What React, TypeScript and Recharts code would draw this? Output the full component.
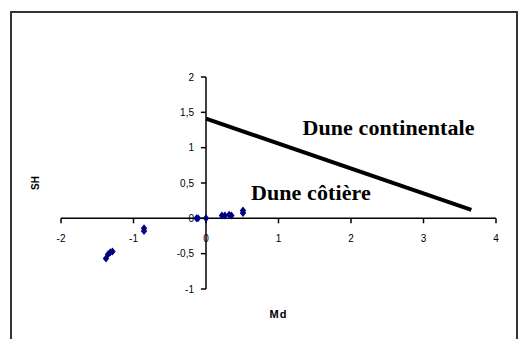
import React from 'react';
import {
  ScatterChart,
  Scatter,
  XAxis,
  YAxis,
  ReferenceLine,
  ReferenceDot,
} from 'recharts';

const pointMd = [-1.38, -1.35, -1.32, -1.29, -0.855, -0.855, -0.13, -0.11, 0, 0.22, 0.26, 0.32, 0.35, 0.51, 0.51];
const pointSh = [-0.57, -0.51, -0.48, -0.47, -0.14, -0.18, 0, 0, 0, 0.04, 0.04, 0.05, 0.04, 0.11, 0.075];

const lineMd = [0, 3.66];
const lineSh = [1.41, 0.12];

const xTicks = [-2, -1, 0, 1, 2, 3, 4];
const yTicks = [-1, -0.5, 0, 0.5, 1, 1.5, 2];
const xTickLabels = ['-2', '-1', '0', '1', '2', '3', '4'];
const yTickLabels = ['-1', '-0,5', '0', '0,5', '1', '1,5', '2'];

const annotations = [
  { text: 'Dune continentale', x: 1.33, y: 1.18 },
  { text: 'Dune côtière', x: 0.62, y: 0.26 },
];

const points = pointMd.map((x, i) => ({ x, y: pointSh[i] }));
const lineData = lineMd.map((x, i) => ({ x, y: lineSh[i] }));

const TICK = 0.07;
const tickFont = { fontFamily: '"Liberation Sans", Arial, sans-serif', fontSize: 10, fill: '#000' };

const Diamond = (props: any) => {
  const { cx, cy } = props;
  if (cx == null || cy == null) return <g />;
  return (
    <polygon
      points={`${cx},${cy - 4} ${cx + 3.2},${cy} ${cx},${cy + 4} ${cx - 3.2},${cy}`}
      fill="#000080"
    />
  );
};

const NoShape = () => <g />;

export default function App() {
  return (
    <div style={{ position: 'absolute', left: 0, top: 0, width: 518, height: 339, background: '#fff', overflow: 'hidden' }}>
      <div
        style={{
          position: 'absolute',
          left: 10,
          top: 11,
          width: 508,
          height: 340,
          boxSizing: 'border-box',
          border: '2px solid #333',
        }}
      />
      <div style={{ position: 'absolute', left: 0, top: 0 }}>
        <ScatterChart width={518} height={339} margin={{ top: 77, right: 22, bottom: 0, left: 0 }}>
          <XAxis
            type="number"
            dataKey="x"
            domain={[-2, 4]}
            ticks={xTicks}
            tick={false}
            tickLine={false}
            axisLine={false}
            height={50}
            label={{ value: 'Md', position: 'center', style: { ...tickFont, fontSize: 11, fontWeight: 'bold', letterSpacing: 1 } }}
          />
          <YAxis
            type="number"
            dataKey="y"
            domain={[-1, 2]}
            ticks={yTicks}
            tick={false}
            tickLine={false}
            axisLine={false}
            width={61}
            label={{ value: 'SH', angle: -90, position: 'center', dx: 5, style: { ...tickFont, fontWeight: 'bold' } }}
          />
          <ReferenceLine y={0} stroke="#000" strokeWidth={1.5} />
          <ReferenceLine x={0} stroke="#000" strokeWidth={1.5} />
          {xTicks.map((t) => (
            <ReferenceLine
              key={'xt' + t}
              segment={[{ x: t, y: 0 }, { x: t, y: -TICK }]}
              stroke="#000"
              strokeWidth={1.5}
            />
          ))}
          {yTicks.map((t) => (
            <ReferenceLine
              key={'yt' + t}
              segment={[{ x: -TICK, y: t }, { x: 0, y: t }]}
              stroke="#000"
              strokeWidth={1.5}
            />
          ))}
          {xTicks.map((t, i) => (
            <ReferenceDot
              key={'xl' + t}
              x={t}
              y={0}
              r={0}
              fill="none"
              stroke="none"
              label={{ value: xTickLabels[i], position: 'bottom', offset: 17, style: tickFont }}
            />
          ))}
          {yTicks.map((t, i) => (
            <ReferenceDot
              key={'yl' + t}
              x={0}
              y={t}
              r={0}
              fill="none"
              stroke="none"
              label={{ value: yTickLabels[i], position: 'left', offset: 12, style: tickFont }}
            />
          ))}
          <Scatter
            data={lineData}
            line={{ stroke: '#000', strokeWidth: 4 }}
            shape={NoShape}
            isAnimationActive={false}
          />
          <Scatter data={points} shape={Diamond} isAnimationActive={false} />
          {annotations.map((a) => (
            <ReferenceDot
              key={a.text}
              x={a.x}
              y={a.y}
              r={0}
              fill="none"
              stroke="none"
              label={(props: any) => {
                const vb = props.viewBox || {};
                return (
                  <text
                    x={vb.x}
                    y={vb.y}
                    textAnchor="start"
                    style={{
                      fontFamily: '"Liberation Serif", "Times New Roman", serif',
                      fontWeight: 'bold',
                      fontSize: 22,
                      letterSpacing: 0.1,
                      fill: '#000',
                    }}
                  >
                    {a.text}
                  </text>
                );
              }}
            />
          ))}
        </ScatterChart>
      </div>
    </div>
  );
}
